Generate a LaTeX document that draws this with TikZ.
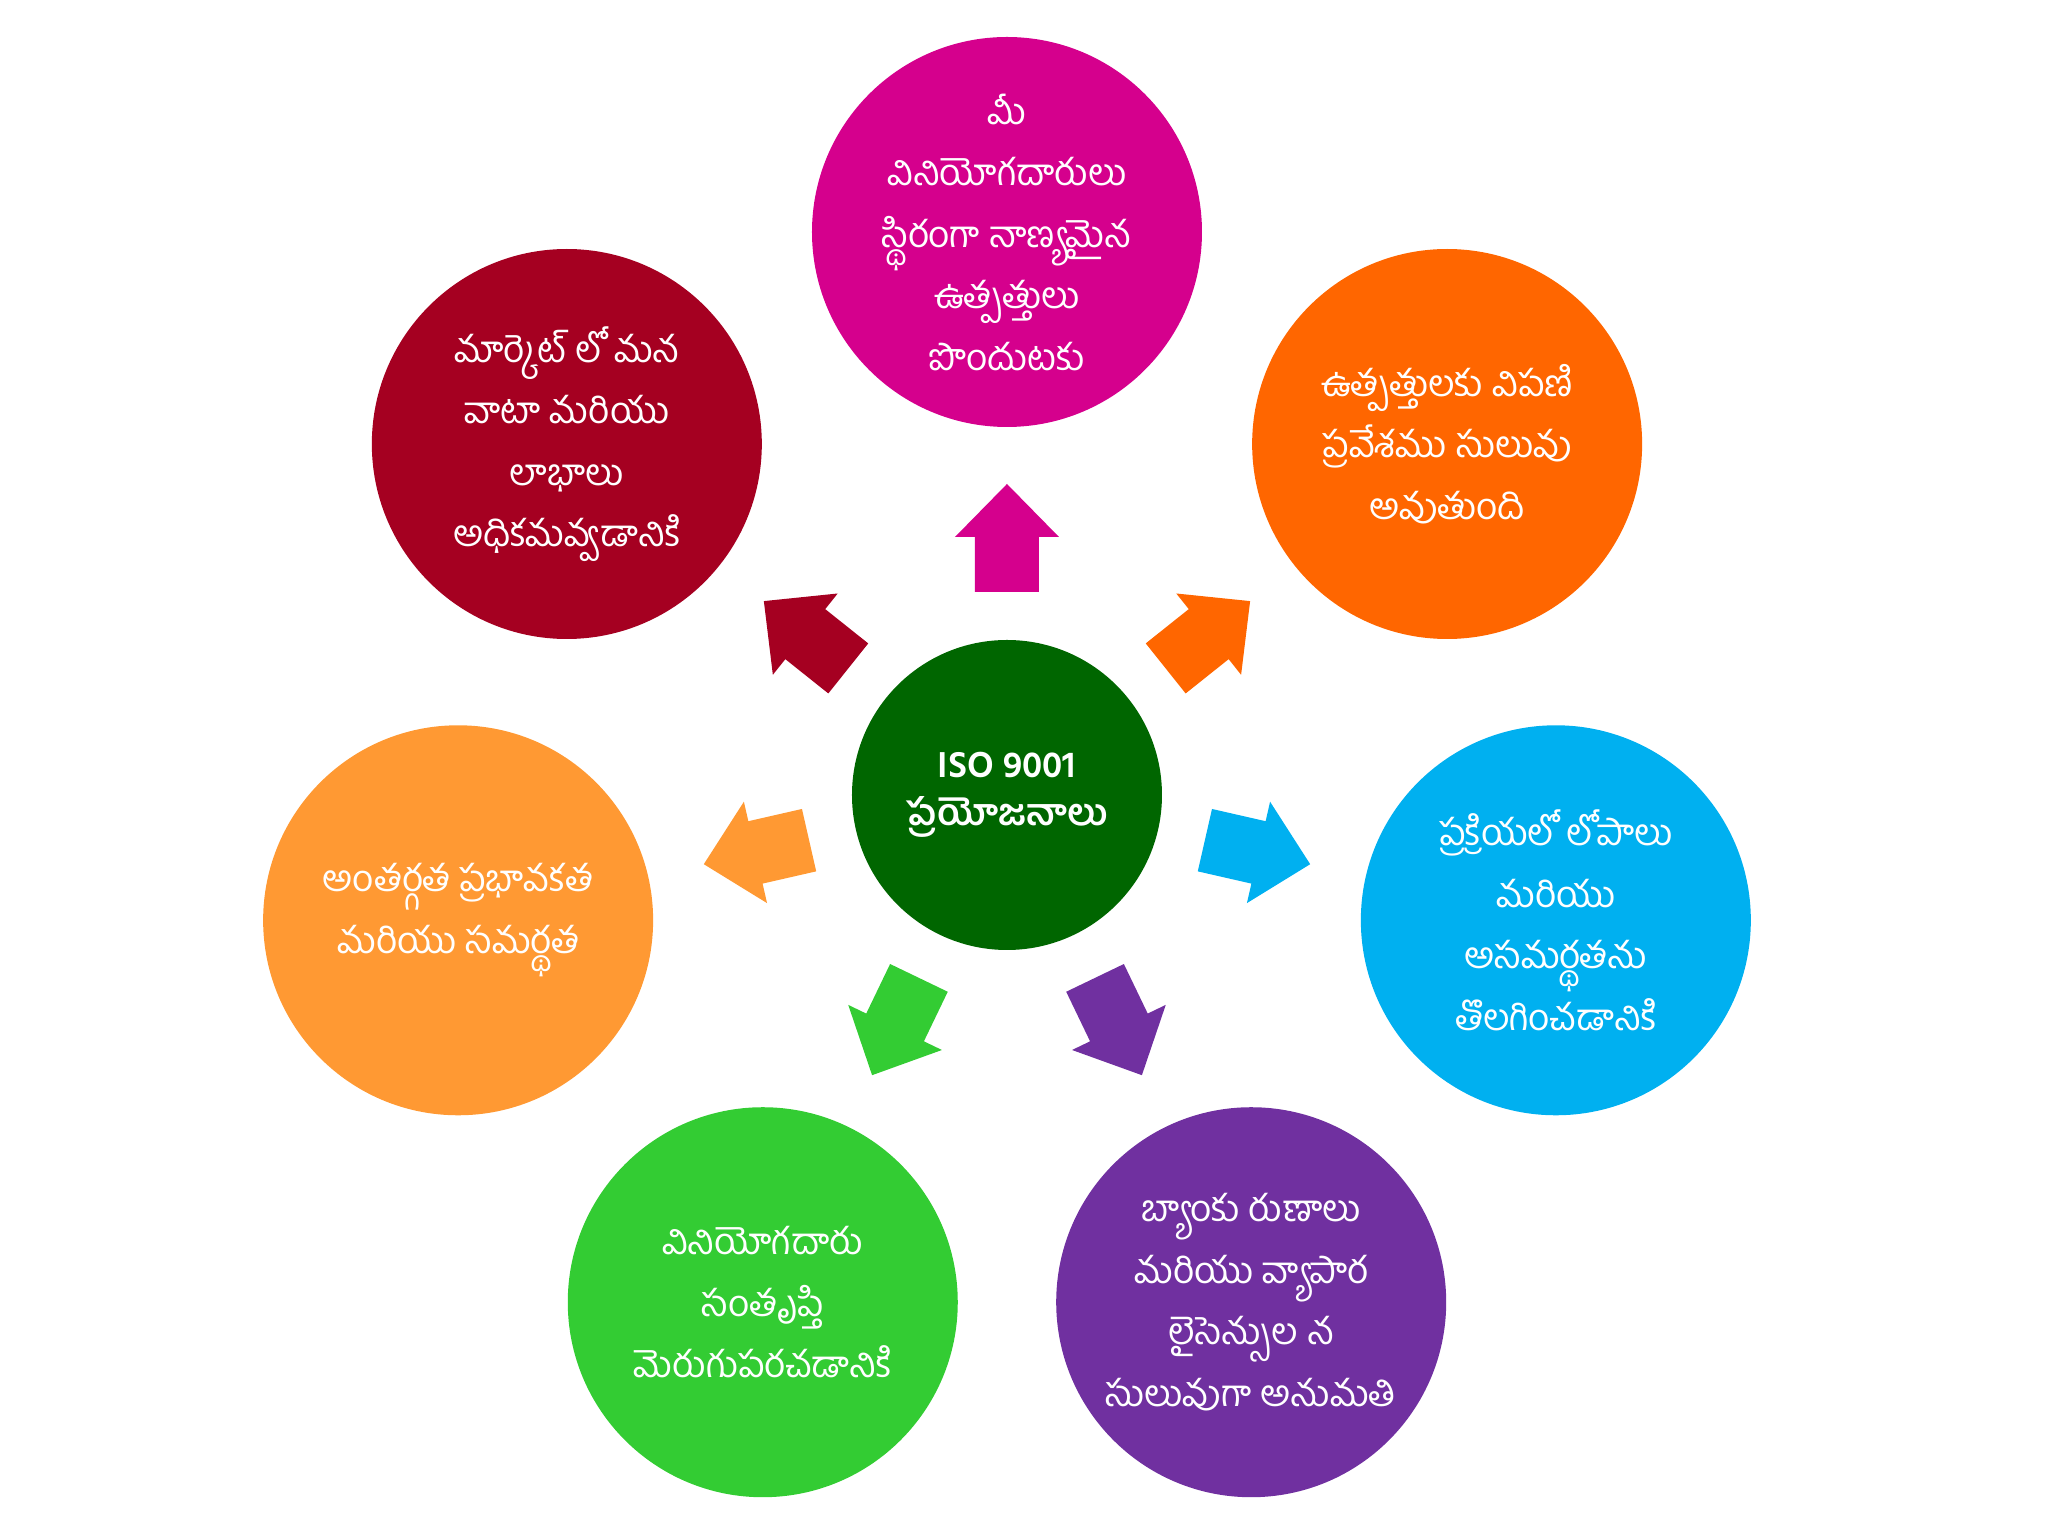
\documentclass[tikz,border=0pt]{standalone}
\usepackage{fontspec}
\newfontfamily\telugu[Script=Telugu]{Hind Guntur}
\definecolor{isomagenta}{HTML}{D5008D}
\definecolor{isored}{HTML}{A50021}
\definecolor{isoorange}{HTML}{FF6600}
\definecolor{isoamber}{HTML}{FF9933}
\definecolor{isoblue}{HTML}{00B0F0}
\definecolor{isopurple}{HTML}{7030A0}
\definecolor{isolime}{HTML}{33CC33}
\definecolor{isogreen}{HTML}{006600}

\begin{document}
\begin{tikzpicture}[
  benefit/.style={circle, minimum size=3.9cm, inner sep=-8pt, text=white, align=center,
    font={\telugu\fontsize{10.5}{17.5}\selectfont}},
  hub/.style={circle, fill=isogreen, minimum size=3.1cm, inner sep=-4pt, text=white, align=center,
    font={\telugu\bfseries\fontsize{10.5}{13.5}\selectfont}}]
\useasboundingbox (-10.07,-7.41) rectangle (10.41,7.95);
% centre
\node[hub] (iso) at (0,0) {ISO 9001\\ప్రయోజనాలు};
% benefits, one every 360/7 degrees
\node[benefit, fill=isomagenta] (quality) at (90:5.63) {మీ\\వినియోగదారులు\\స్థిరంగా నాణ్యమైన\\ఉత్పత్తులు\\పొందుటకు};
\node[benefit, fill=isored] (share) at (141.43:5.63) {మార్కెట్ లో మన\\వాటా మరియు\\లాభాలు\\అధికమవ్వడానికి};
\node[benefit, fill=isoamber] (internal) at (192.86:5.63) {అంతర్గత ప్రభావకత\\మరియు సమర్థత};
\node[benefit, fill=isolime] (satisfy) at (244.29:5.63) {వినియోగదారు\\సంతృప్తి\\మెరుగుపరచడానికి};
\node[benefit, fill=isopurple] (loans) at (295.71:5.63) {బ్యాంకు రుణాలు\\మరియు వ్యాపార\\లైసెన్సుల న\\సులువుగా అనుమతి};
\node[benefit, fill=isoblue] (process) at (347.14:5.63) {ప్రక్రియలో లోపాలు\\మరియు\\అసమర్థతను\\తొలగించడానికి};
\node[benefit, fill=isoorange] (entry) at (38.57:5.63) {ఉత్పత్తులకు విపణి\\ప్రవేశము సులువు\\అవుతుంది};
% block arrows out of the hub
\foreach \ang/\col in {90/isomagenta, 141.43/isored, 192.86/isoamber, 244.29/isolime,
    295.71/isopurple, 347.14/isoblue, 38.57/isoorange}
  \fill[\col, rotate=\ang] (2.03,-0.32) -- (2.58,-0.32) -- (2.58,-0.52) -- (3.11,0)
    -- (2.58,0.52) -- (2.58,0.32) -- (2.03,0.32) -- cycle;
\end{tikzpicture}
\end{document}
